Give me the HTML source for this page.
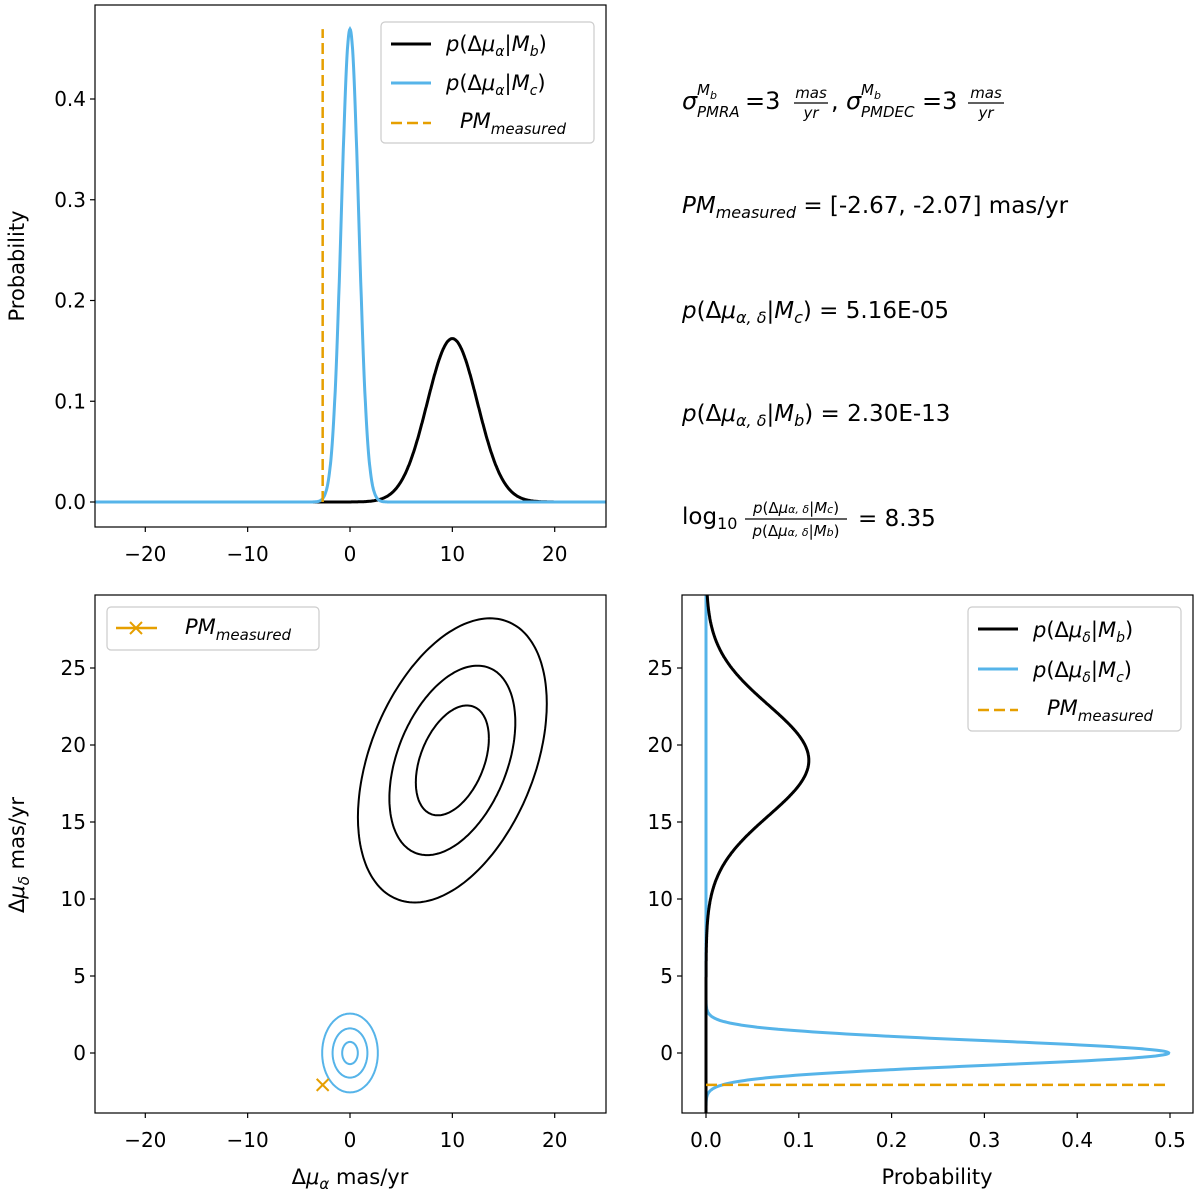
<!DOCTYPE html>
<html><head><meta charset="utf-8"><style>
body{margin:0;background:#fff}
svg text{font-family:"DejaVu Sans","Liberation Sans",sans-serif;fill:#000}
</style></head><body>
<svg id="c" width="1200" height="1196" xmlns="http://www.w3.org/2000/svg"></svg>
<script>
// ---- data ----
const muB = [10, 19];          // mean of M_b (alpha, delta)
const sigB = [2.46, 3.6];      // marginal sigma of M_b
const sigBc = [2.46, 2.46];    // contour sigma of M_b
const rhoB = 0.4;
const muC = [0, 0];
const sigC = [0.85, 0.8];
const rhoC = 0;
const pmMeasured = [-2.67, -2.07];
const levelsB = [1.45, 2.5, 3.75];
const levelsC = [0.9, 2.0, 3.2];
const xTicksA = [-20, -10, 0, 10, 20];
const yTicksTop = [0.0, 0.1, 0.2, 0.3, 0.4];
const yTicksD = [0, 5, 10, 15, 20, 25];
const xTicksProb = [0.0, 0.1, 0.2, 0.3, 0.4, 0.5];

const NS = "http://www.w3.org/2000/svg";
const svg = document.getElementById('c');
function mk(tag, attrs, parent){const e=document.createElementNS(NS,tag);for(const k in attrs)e.setAttribute(k,attrs[k]);(parent||svg).appendChild(e);return e;}
function txt(s, x, y, anchor, size, parent){const t=mk('text',{x:x,y:y,'text-anchor':anchor||'start','font-size':size||20},parent);t.innerHTML=s;return t;}
function it(s,x,y,size,parent,anchor){const t=txt(s,x,y,anchor||'start',size,parent);t.setAttribute('font-style','italic');return t;}
const pdf=(x,m,s)=>Math.exp(-0.5*((x-m)/s)**2)/(s*Math.sqrt(2*Math.PI));

const axA = v => 350 + v*10.235;
const axTopY = v => 502 - v*1007.5;
const axD = v => 1053 - v*15.4;
const axProb = v => 706 + v*928;
const BLUE='#56b4e9', ORANGE='#e69f00';
const DASH='11,5';

function frame(x0,y0,x1,y1,name){
  const g=mk('g',{});
  
  
  mk('defs',{},g).innerHTML=`<clipPath id="clip-${name}"><rect x="${x0}" y="${y0}" width="${x1-x0}" height="${y1-y0}"/></clipPath>`;
  const plot=mk('g',{'clip-path':`url(#clip-${name})`},g);
  return {g,plot,x0,y0,x1,y1};
}
function border(f){mk('rect',{x:f.x0,y:f.y0,width:f.x1-f.x0,height:f.y1-f.y0,fill:'none',stroke:'#000','stroke-width':1.2},f.g);}
function xticks(f,ticks,sc,fmt){ticks.forEach(v=>{const x=sc(v);mk('line',{x1:x,x2:x,y1:f.y1,y2:f.y1+5,stroke:'#000','stroke-width':1.2},f.g);const t=txt(fmt(v),x,f.y1+34,'middle',20,f.g);

});}
function yticks(f,ticks,sc,fmt){ticks.forEach(v=>{const y=sc(v);mk('line',{x1:f.x0-5,x2:f.x0,y1:y,y2:y,stroke:'#000','stroke-width':1.2},f.g);const t=txt(fmt(v),f.x0-9,y+7,'end',20,f.g);

});}
const fmtInt=v=>String(v).replace('-','\u2212');
const fmt1=v=>v.toFixed(1);
function poly(parent,pts,attrs){return mk('polyline',Object.assign({points:pts.map(p=>p[0].toFixed(1)+','+p[1].toFixed(1)).join(' '),fill:'none'},attrs),parent);}

// ---- top-left ----
const f1=frame(95,5,606,527,'top-left-panel');
{
  const pb=[],pc=[];
  for(let i=0;i<=1000;i++){const x=-25+50*i/1000;pb.push([axA(x),axTopY(pdf(x,muB[0],sigB[0]))]);pc.push([axA(x),axTopY(pdf(x,muC[0],sigC[0]))]);}
  const l1=poly(f1.plot,pb,{stroke:'#000','stroke-width':3});
  
  
  const l2=poly(f1.plot,pc,{stroke:BLUE,'stroke-width':3});
  
  
  const top=Math.max(pdf(muB[0],muB[0],sigB[0]),pdf(0,0,sigC[0]));
  const d=mk('line',{x1:axA(pmMeasured[0]),x2:axA(pmMeasured[0]),y1:axTopY(0),y2:axTopY(top),stroke:ORANGE,'stroke-width':2.5,'stroke-dasharray':DASH},f1.plot);
  
  
  border(f1);
  xticks(f1,xTicksA,axA,fmtInt);
  yticks(f1,yTicksTop,axTopY,fmt1);
  const yl=txt('Probability',0,0,'middle',21);
  yl.setAttribute('transform','translate(24,266) rotate(-90)');
  
  
  const lg=mk('g',{});
  
  
  mk('rect',{x:381,y:22,width:213,height:121,rx:4,fill:'#fff',stroke:'#ccc','stroke-width':1.2},lg);
  mk('line',{x1:391,x2:431,y1:44,y2:44,stroke:'#000','stroke-width':3},lg);
  mk('line',{x1:391,x2:431,y1:83,y2:83,stroke:BLUE,'stroke-width':3},lg);
  mk('line',{x1:391,x2:431,y1:123,y2:123,stroke:ORANGE,'stroke-width':2.5,'stroke-dasharray':DASH},lg);
  txt('<tspan font-style="italic">p</tspan>(Δ<tspan font-style="italic">μ<tspan font-size="14" dy="5">α</tspan></tspan><tspan dy="-5">|</tspan><tspan font-style="italic">M<tspan font-size="14" dy="5">b</tspan></tspan><tspan dy="-5">)</tspan>',446,51,'start',21,lg);
  txt('<tspan font-style="italic">p</tspan>(Δ<tspan font-style="italic">μ<tspan font-size="14" dy="5">α</tspan></tspan><tspan dy="-5">|</tspan><tspan font-style="italic">M<tspan font-size="14" dy="5">c</tspan></tspan><tspan dy="-5">)</tspan>',446,90,'start',21,lg);
  txt('<tspan font-style="italic">PM<tspan font-size="15" dy="6">measured</tspan></tspan>',460,128,'start',21,lg);
}

// ---- text block ----
{
  const g=mk('g',{});
  
  
  // line 1
  it('σ',682,109,24,g); it('M',697,95,15,g); it('b',710,99,11,g); it('PMRA',697,117,15,g);
  txt('=3',745,109,'start',24,g);
  it('mas',811,98,15,g,'middle'); mk('line',{x1:794,x2:828,y1:103,y2:103,stroke:'#000','stroke-width':1.2},g); it('yr',811,118,15,g,'middle');
  txt(',',831,109,'start',24,g);
  it('σ',846,109,24,g); it('M',861,95,15,g); it('b',874,99,11,g); it('PMDEC',861,117,15,g);
  txt('=3',922,109,'start',24,g);
  it('mas',986,98,15,g,'middle'); mk('line',{x1:968,x2:1004,y1:103,y2:103,stroke:'#000','stroke-width':1.2},g); it('yr',986,118,15,g,'middle');
  txt('<tspan font-style="italic">PM<tspan font-size="16" dy="5">measured</tspan></tspan><tspan dy="-5"> = [-2.67, -2.07] mas/yr</tspan>',682,213,'start',23,g);
  txt('<tspan font-style="italic">p</tspan>(Δ<tspan font-style="italic">μ<tspan font-size="16" dy="5">α, δ</tspan></tspan><tspan dy="-5">|</tspan><tspan font-style="italic">M<tspan font-size="16" dy="5">c</tspan></tspan><tspan dy="-5">) = 5.16E-05</tspan>',682,318,'start',23,g);
  txt('<tspan font-style="italic">p</tspan>(Δ<tspan font-style="italic">μ<tspan font-size="16" dy="5">α, δ</tspan></tspan><tspan dy="-5">|</tspan><tspan font-style="italic">M<tspan font-size="16" dy="5">b</tspan></tspan><tspan dy="-5">) = 2.30E-13</tspan>',682,421,'start',23,g);
  txt('log<tspan font-size="16" dy="5">10</tspan>',682,524,'start',23,g);
  txt('<tspan font-style="italic">p</tspan>(Δ<tspan font-style="italic">μ<tspan font-size="11">α, δ</tspan></tspan>|<tspan font-style="italic">M<tspan font-size="11">c</tspan></tspan>)',796,513,'middle',15,g);
  mk('line',{x1:745,x2:847,y1:519,y2:519,stroke:'#000','stroke-width':1.2},g);
  txt('<tspan font-style="italic">p</tspan>(Δ<tspan font-style="italic">μ<tspan font-size="11">α, δ</tspan></tspan>|<tspan font-style="italic">M<tspan font-size="11">b</tspan></tspan>)',796,536,'middle',15,g);
  txt('= 8.35',858,526,'start',23,g);
}

// ---- bottom-left ----
const f2=frame(95,595,606,1113,'contour-panel');
{
  function ell(mu,sig,rho,r){const pts=[];for(let i=0;i<=200;i++){const t=2*Math.PI*i/200;const u=Math.cos(t)*r,v=Math.sin(t)*r;
    const x=mu[0]+sig[0]*u, y=mu[1]+sig[1]*(rho*u+Math.sqrt(1-rho*rho)*v);pts.push([axA(x),axD(y)]);}return pts;}
  levelsB.forEach(r=>{const p=poly(f2.plot,ell(muB,sigBc,rhoB,r),{stroke:'#000','stroke-width':2});
    
    });
  levelsC.forEach(r=>{const p=poly(f2.plot,ell(muC,sigC,rhoC,r),{stroke:BLUE,'stroke-width':2});
    
    });
  const mx=axA(pmMeasured[0]),my=axD(pmMeasured[1]);
  const m=mk('path',{d:`M${mx-6},${my-6}L${mx+6},${my+6}M${mx-6},${my+6}L${mx+6},${my-6}`,stroke:ORANGE,'stroke-width':2},f2.plot);
  
  
  border(f2);
  xticks(f2,xTicksA,axA,fmtInt);
  yticks(f2,yTicksD,axD,fmtInt);
  const xl=txt('Δ<tspan font-style="italic">μ<tspan font-size="15" dy="5">α</tspan></tspan><tspan dy="-5"> mas/yr</tspan>',350,1184,'middle',21);
  
  
  const yl=txt('Δ<tspan font-style="italic">μ<tspan font-size="15" dy="5">δ</tspan></tspan><tspan dy="-5"> mas/yr</tspan>',0,0,'middle',21);
  yl.setAttribute('transform','translate(24,855) rotate(-90)');
  
  
  const lg=mk('g',{});
  
  
  mk('rect',{x:107,y:607,width:212,height:43,rx:4,fill:'#fff',stroke:'#ccc','stroke-width':1.2},lg);
  mk('line',{x1:116,x2:157,y1:628,y2:628,stroke:ORANGE,'stroke-width':2.5},lg);
  mk('path',{d:'M130,622L142,634M130,634L142,622',stroke:ORANGE,'stroke-width':2},lg);
  txt('<tspan font-style="italic">PM<tspan font-size="15" dy="6">measured</tspan></tspan>',185,634,'start',21,lg);
}

// ---- bottom-right ----
const f3=frame(682,595,1193,1113,'marginal-delta-panel');
{
  const pb=[],pc=[];
  for(let i=0;i<=1000;i++){const y=-4+34*i/1000;pb.push([axProb(pdf(y,muB[1],sigB[1])),axD(y)]);pc.push([axProb(pdf(y,muC[1],sigC[1])),axD(y)]);}
  const l2=poly(f3.plot,pc,{stroke:BLUE,'stroke-width':3});
  
  
  const l1=poly(f3.plot,pb,{stroke:'#000','stroke-width':3});
  
  
  const top=Math.max(pdf(0,0,sigC[1]),pdf(muB[1],muB[1],sigB[1]));
  const d=mk('line',{x1:axProb(0),x2:axProb(top),y1:axD(pmMeasured[1]),y2:axD(pmMeasured[1]),stroke:ORANGE,'stroke-width':2.5,'stroke-dasharray':DASH},f3.plot);
  
  
  border(f3);
  xticks(f3,xTicksProb,axProb,fmt1);
  yticks(f3,yTicksD,axD,fmtInt);
  const xl=txt('Probability',937,1184,'middle',21);
  
  
  const lg=mk('g',{});
  
  
  mk('rect',{x:968,y:607,width:213,height:124,rx:4,fill:'#fff',stroke:'#ccc','stroke-width':1.2},lg);
  mk('line',{x1:978,x2:1018,y1:629,y2:629,stroke:'#000','stroke-width':3},lg);
  mk('line',{x1:978,x2:1018,y1:669,y2:669,stroke:BLUE,'stroke-width':3},lg);
  mk('line',{x1:978,x2:1018,y1:710,y2:710,stroke:ORANGE,'stroke-width':2.5,'stroke-dasharray':DASH},lg);
  txt('<tspan font-style="italic">p</tspan>(Δ<tspan font-style="italic">μ<tspan font-size="14" dy="5">δ</tspan></tspan><tspan dy="-5">|</tspan><tspan font-style="italic">M<tspan font-size="14" dy="5">b</tspan></tspan><tspan dy="-5">)</tspan>',1033,637,'start',21,lg);
  txt('<tspan font-style="italic">p</tspan>(Δ<tspan font-style="italic">μ<tspan font-size="14" dy="5">δ</tspan></tspan><tspan dy="-5">|</tspan><tspan font-style="italic">M<tspan font-size="14" dy="5">c</tspan></tspan><tspan dy="-5">)</tspan>',1033,677,'start',21,lg);
  txt('<tspan font-style="italic">PM<tspan font-size="15" dy="6">measured</tspan></tspan>',1047,715,'start',21,lg);
}
</script>
</body></html>
